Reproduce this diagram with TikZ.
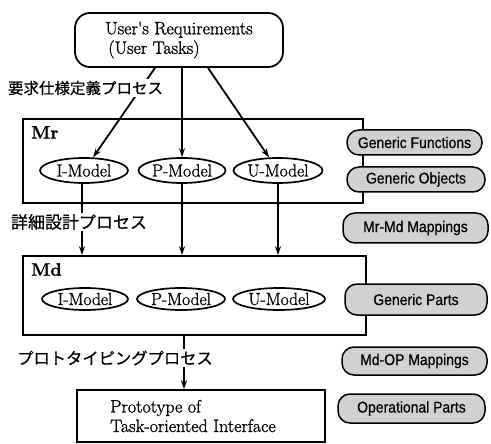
\documentclass[tikz,border=0pt]{standalone}
\usepackage{fontspec}
\usetikzlibrary{arrows.meta,shapes.geometric,calc}
\newfontfamily\heavy{Latin Modern Roman}[FakeBold=1.2]
\newfontfamily\pillfont{Liberation Sans}[FakeStretch=0.9,FakeBold=0.6]
\newfontfamily\jpfont{Noto Sans CJK JP}[FakeBold=0.5]
\tikzset{
  serif/.style={font=\heavy\fontsize{18}{19.5}\selectfont},
  arr/.style={line width=1.8pt,-{Stealth[length=9pt,width=6pt]}},
  frame/.style={draw,line width=1.6pt},
  model/.style={draw,ellipse,line width=1.7pt,inner sep=0pt,font=\heavy\fontsize{17.5}{19}\selectfont},
  pill/.style={draw,line width=1.5pt,rounded corners=12pt,fill=black!18,inner sep=0pt,font=\pillfont\fontsize{15.5}{17}\selectfont},
  jlabel/.style={fill=white,inner sep=1.5pt}
}
\begin{document}
\begin{tikzpicture}[x=1pt,y=-1pt]
\useasboundingbox (0,0) rectangle (491,444);
% top box
\node[draw,line width=1.8pt,rounded corners=15pt,minimum width=208pt,minimum height=54pt,serif,align=left] (ur) at (179,40) {User's Requirements\\\,(User Tasks)};
% Mr box
\node[frame,minimum width=340pt,minimum height=84pt,inner sep=0pt] (mr) at (193,161) {};
\node[anchor=north west,inner sep=0pt,font=\heavy\bfseries\fontsize{18}{20}\selectfont] (mrl) at (31,126) {Mr};
\node[model,minimum width=88pt,minimum height=25pt] (im1) at (84,170.5) {I-Model};
\node[model,minimum width=87pt,minimum height=25pt] (pm1) at (182,170.5) {P-Model};
\node[model,minimum width=89pt,minimum height=25pt] (um1) at (278,170.5) {U-Model};
% Md box
\node[frame,minimum width=343pt,minimum height=79pt,inner sep=0pt] (md) at (194.5,295.5) {};
\node[anchor=north west,inner sep=0pt,font=\heavy\bfseries\fontsize{18}{20}\selectfont] (mdl) at (31,263) {Md};
\node[model,minimum width=86pt,minimum height=22pt] (im2) at (85,299) {I-Model};
\node[model,minimum width=88pt,minimum height=22pt] (pm2) at (181,299) {P-Model};
\node[model,minimum width=92pt,minimum height=22pt] (um2) at (279,299) {U-Model};
% prototype
\node[frame,minimum width=248pt,minimum height=52pt] (proto) at (201,416) {};
\node[serif,align=left,anchor=west,inner sep=0pt] (protot) at (110,416) {Prototype of\\Task-oriented Interface};
% arrows
\draw[arr] ([xshift=-24pt]ur.south) -- (im1);
\draw[arr] (ur.south -| pm1) -- (pm1);
\draw[arr] ([xshift=29pt]ur.south) -- (um1);
\draw[arr] ([xshift=-2pt]im1.south) -- ([xshift=-2pt]im1.south |- md.north);
\draw[arr] (pm1.south) -- (pm1.south |- md.north);
\draw[arr] (um1.south) -- (um1.south |- md.north);
\draw[arr] ([xshift=3pt]md.south -| pm2) -- ([xshift=3pt]proto.north -| pm2);
% Japanese labels
\node[jlabel,font=\jpfont\fontsize{15.5}{17}\selectfont] (j1) at (85.5,88) {要求仕様定義プロセス};
\node[jlabel,font=\jpfont\fontsize{17}{19}\selectfont] (j2) at (79,222) {詳細設計プロセス};
\node[jlabel,font=\jpfont\fontsize{16.3}{18}\selectfont] (j3) at (115,358) {プロトタイピングプロセス};
% pills
\node[pill,minimum width=135pt,minimum height=25pt] (gf) at (414.5,142.5) {Generic Functions};
\node[pill,minimum width=138pt,minimum height=25pt] (go) at (416,179.5) {Generic Objects};
\node[pill,minimum width=145pt,minimum height=30pt] (mm) at (415.5,228) {Mr-Md Mappings};
\node[pill,minimum width=142pt,minimum height=31pt] (gp) at (416,299.5) {Generic Parts};
\node[pill,minimum width=145pt,minimum height=28pt] (mo) at (414.5,361) {Md-OP Mappings};
\node[pill,minimum width=147pt,minimum height=29pt] (op) at (411.5,408.5) {Operational Parts};
\end{tikzpicture}
\end{document}
